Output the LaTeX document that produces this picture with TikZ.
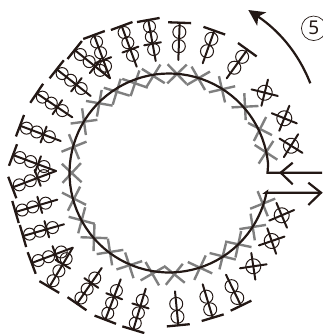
\documentclass[tikz,border=0pt]{standalone}
\usepackage{fontspec}
\setsansfont{Noto Sans}
\usetikzlibrary{calc,arrows.meta}
\definecolor{inkblack}{HTML}{231815}
\definecolor{xgray}{HTML}{7F7F7F}
\tikzset{
	stitchline/.style={inkblack, line width=2pt, line cap=round},
	barline/.style={inkblack, line width=2.3pt},
	loopline/.style={inkblack, line width=1pt},
	grayx/.style={xgray, line width=2.4pt},
	ringline/.style={inkblack, line width=2.2pt}
}
\begin{document}
\begin{tikzpicture}[x=1pt, y=-1pt]
	\useasboundingbox (0,0) rectangle (322,334);
	
	% Gray crosses of the base round
	\foreach \px/\py/\rot in {74/146.7/22, 84/121.7/8, 99.3/103.3/-10, 116.7/91.7/-17, 135/83.3/-19,
		153.3/76/-32, 177/74/-46, 198.3/78.3/30, 222/89.3/13, 245/106.7/3, 260/129/-27, 266/152.3/-33,
		262.7/203.7/22, 252.7/227/9, 238.3/244.3/-12, 222.7/256.3/-14, 200/267.7/-25, 174.3/274.3/-39,
		152.3/273.7/30, 129.3/265.3/18, 110/252/9, 94/237.7/-2, 81.7/220.3/-15, 74/198.7/-27, 71.7/173/-43}
	{
		\begin{scope}[shift={(\px,\py)}, rotate=\rot]
			\draw[grayx] (-13.5,0) -- (13.5,0);
			\draw[grayx] (0,-13.5) -- (0,13.5);
		\end{scope}
	}
	
	% Ring with both ends
	\coordinate (upperend) at (322,172.7);
	\coordinate (uppertip) at (280.7,172.7);
	\coordinate (lowerend) at (321,192.7);
	\draw[ringline] (upperend) -- (267.5,172.7) -- plot[domain=5:349, samples=90] ({169+99.5*cos(\x)},{173-99.5*sin(\x)}) -- (265.7,192.7) -- (lowerend);
	\draw[ringline] (292.7,162.7) -- (uppertip) -- (292.7,184.3);
	\draw[ringline] (308.3,182.7) -- (lowerend) -- (308.3,205);
	
	% Stitches with three loops
	\foreach \ox/\oy/\ix/\iy in {148.3/20/155.7/61, 121.7/26/136.7/66.7, 94/35/110/78.3, 74.7/50/110/78.3,
		56.7/69.3/90.7/96, 36.7/93.3/72.3/117.3, 20/125.7/60.7/141, 13/155/56/171, 12.3/187.5/56/171,
		15.5/212/57.3/199.7, 23/236/64/224.3, 31.7/263/72.7/247.7, 49.3/287/72.7/247.7, 77/303.7/101.7/268,
		105.3/319.7/120.7/279.3, 133.3/329.7/145.7/288.7}
	{
		\coordinate (top) at (\ox,\oy);
		\coordinate (tip) at (\ix,\iy);
		\draw[barline] ($(top)!11.5pt!90:(tip)$) -- ($(top)!11.5pt!-90:(tip)$);
		\draw[stitchline] (top) -- (tip);
		\draw[stitchline] ($($(top)!.58!(tip)$)!8.5pt!90:(tip)$) -- ($($(top)!.58!(tip)$)!8.5pt!-90:(tip)$);
		\foreach \f in {.16,.41,.72}
			\draw[loopline] ($(top)!\f!(tip)$) circle[radius=6];
	}
	
	% Stitches with two loops
	\foreach \ox/\oy/\ix/\iy in {247.3/49.7/226.7/78.3, 214.3/30.7/202.7/63.3, 179.7/22.7/178.3/60,
		178.3/325.3/175/291.3, 212.7/317.7/202.7/284.3, 241/305.7/226/274.7}
	{
		\coordinate (top) at (\ox,\oy);
		\coordinate (tip) at (\ix,\iy);
		\draw[barline] ($(top)!11.5pt!90:(tip)$) -- ($(top)!11.5pt!-90:(tip)$);
		\draw[stitchline] (top) -- (tip);
		\foreach \f in {.25,.63}
			\draw[loopline] ($(top)!\f!(tip)$) circle[radius=6.5];
	}
	
	% Small crossed loops
	\foreach \px/\py/\rot in {264.7/92.7/-14, 284.3/118.3/-22, 291/145.7/-32, 281.7/215.3/23, 271.7/241/19, 253.3/266.3/8.5}
	{
		\begin{scope}[shift={(\px,\py)}, rotate=\rot]
			\draw[stitchline] (-13.5,0) -- (13.5,0);
			\draw[stitchline] (0,-13.5) -- (0,13.5);
			\draw[loopline] (0,0) circle[radius=7.5];
		\end{scope}
	}
	
	% Round direction
	\coordinate (dirstart) at (310.3,83.3);
	\coordinate (dirend) at (248.3,10);
	\draw[ringline, -{Stealth[length=16pt, width=16pt, inset=4pt]}] (dirstart) .. controls (298,52) and (278,30) .. (dirend);
	\node[circle, draw=inkblack, line width=0.7pt, minimum size=24.5pt, inner sep=0pt, text=inkblack, font=\sffamily\fontsize{19}{19}\selectfont] (roundnum) at (313.7,28.3) {5};
\end{tikzpicture}
\end{document}
